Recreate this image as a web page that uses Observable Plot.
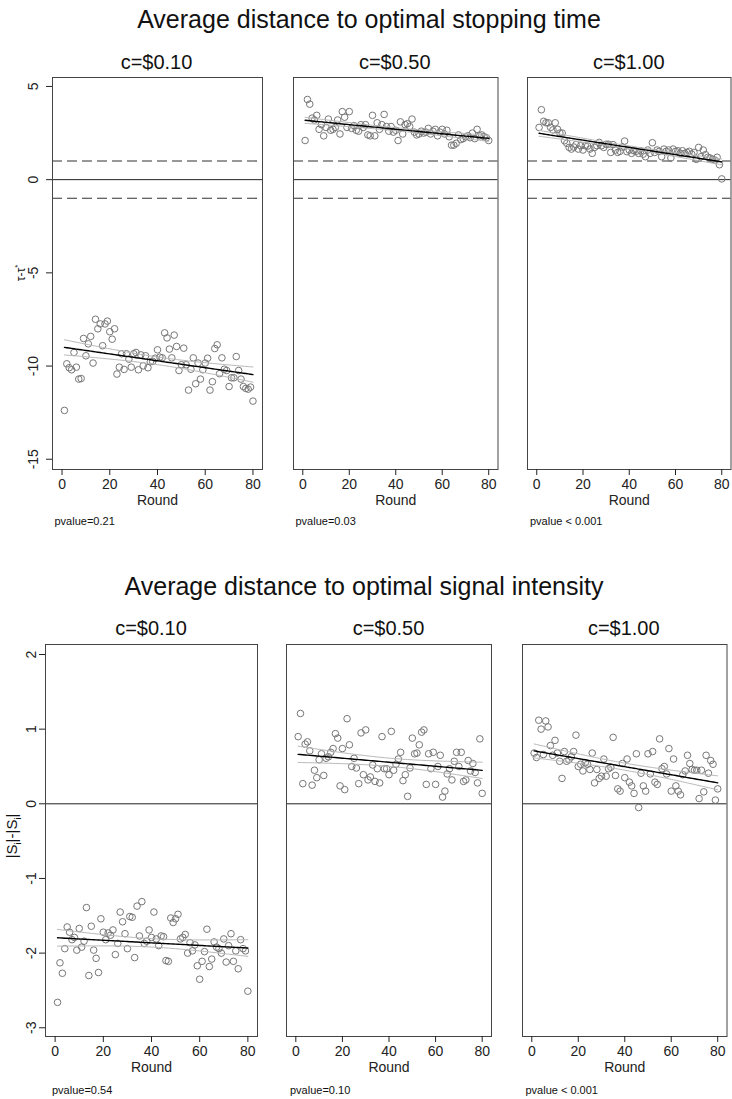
<!DOCTYPE html>
<html>
<head>
<meta charset="utf-8">
<script src="https://cdn.jsdelivr.net/npm/d3@7"></script>
<script src="https://cdn.jsdelivr.net/npm/@observablehq/plot@0.6"></script>
<style>
  html, body { margin: 0; padding: 0; background: #fff; }
  #root { position: relative; width: 732px; height: 1099px; background: #fff; font-family: "Liberation Sans", Arial, sans-serif; color: #111; overflow: hidden; }
  .lbl { position: absolute; transform: translate(-50%, -50%); white-space: nowrap; line-height: 1; }
  .pv { position: absolute; white-space: nowrap; line-height: 1; font-size: 11px; transform: translateY(-50%); }
  .rot { position: absolute; transform: translate(-50%, -50%) rotate(-90deg); white-space: nowrap; line-height: 1; }
</style>
</head>
<body>
<div id="root"></div>
<script>
// ---------- data ----------
const mainTitles = ["Average distance to optimal stopping time", "Average distance to optimal signal intensity"];
const costLabels = ["c=$0.10", "c=$0.50", "c=$1.00"];
const pvaluesStop = ["pvalue=0.21", "pvalue=0.03", "pvalue < 0.001"];
const pvaluesSignal = ["pvalue=0.54", "pvalue=0.10", "pvalue < 0.001"];
const xTicks = [0, 20, 40, 60, 80];
const yTicksStop = [-15, -10, -5, 0, 5];
const yTicksSignal = [-3, -2, -1, 0, 1, 2];
const stopBands = [-1, 1];
const rounds = d3.range(1, 81);

const stop010 = [-12.38,-9.88,-10.09,-10.2,-9.27,-10.06,-10.7,-10.67,-8.52,-9.45,-8.81,-8.41,-9.84,-7.49,-8.0,-7.74,-8.91,-7.74,-7.59,-8.16,
  -8.56,-8.0,-10.43,-10.06,-9.34,-10.18,-9.34,-9.63,-10.06,-9.34,-9.27,-10.2,-9.4,-9.99,-9.45,-10.09,-9.77,-9.75,-9.58,-9.13,
  -9.52,-9.56,-8.22,-8.49,-9.09,-9.56,-8.34,-8.95,-10.24,-9.93,-9.04,-9.93,-11.29,-10.17,-9.56,-10.95,-9.84,-10.7,-10.2,-9.84,
  -9.58,-11.29,-10.84,-9.06,-8.86,-10.41,-9.56,-10.17,-10.24,-11.1,-10.63,-10.63,-9.49,-10.24,-10.7,-11.1,-11.2,-11.24,-11.13,-11.88];
const stop050 = [2.1,4.3,4.05,3.3,3.2,3.45,2.7,2.95,2.35,2.8,3.25,2.65,2.7,2.8,3.2,2.45,3.65,3.35,2.8,3.65,
  2.75,2.9,2.65,2.6,2.95,2.8,2.95,2.4,2.35,3.45,2.35,3.05,2.7,2.95,3.5,2.85,2.6,2.85,2.55,2.65,
  2.1,3.1,2.45,2.95,3.0,2.85,3.25,2.55,2.4,2.45,2.6,2.5,2.55,2.75,2.45,2.6,2.7,2.35,2.55,2.7,
  2.45,2.65,2.3,1.85,1.85,1.95,2.4,2.15,2.2,2.3,2.35,2.25,2.5,2.2,2.7,2.35,2.4,2.3,2.25,2.1];
const stop100 = [2.8,3.75,3.13,3.05,3.05,2.8,2.67,3.05,2.7,2.5,2.5,2.09,1.95,1.73,1.64,1.75,1.88,1.64,1.82,1.59,
  1.82,1.8,1.64,1.41,1.73,1.82,2.0,1.82,1.73,1.9,1.9,1.46,1.88,1.59,1.46,1.52,1.75,2.07,1.5,1.59,
  1.41,1.55,1.52,1.41,1.55,1.37,1.23,1.59,1.41,1.98,1.46,1.59,1.52,1.23,1.64,1.52,1.59,1.16,1.64,1.52,
  1.55,1.41,1.55,1.41,1.46,1.52,1.37,1.46,1.09,1.73,1.23,1.59,1.34,1.2,1.16,1.09,1.05,1.2,0.8,0.04];
const signal010 = [-2.66,-2.13,-2.27,-1.94,-1.65,-1.72,-1.82,-1.79,-1.96,-1.67,-1.92,-1.84,-1.39,-2.3,-1.64,-1.96,-2.07,-2.26,-1.54,-1.72,
  -1.82,-1.73,-1.76,-1.69,-2.02,-1.87,-1.45,-1.58,-1.74,-1.94,-1.51,-1.52,-2.06,-1.37,-1.77,-1.31,-1.87,-1.84,-1.69,-1.79,
  -1.45,-1.81,-1.9,-1.77,-1.78,-2.1,-2.11,-1.53,-1.59,-1.54,-1.48,-1.81,-1.79,-1.75,-2.0,-1.86,-1.97,-1.89,-2.17,-2.35,
  -2.11,-1.98,-1.68,-2.18,-2.08,-1.85,-1.92,-1.94,-2.0,-1.81,-2.12,-1.9,-1.74,-2.11,-1.97,-2.21,-1.82,-1.94,-1.97,-2.51];
const signal050 = [0.9,1.21,0.27,0.8,0.83,0.71,0.25,0.45,0.35,0.59,0.67,0.38,0.61,0.63,0.69,0.74,0.94,0.88,0.24,0.74,
  0.19,1.14,0.79,0.5,0.61,0.48,0.27,0.95,0.39,0.99,0.32,0.36,0.52,0.3,0.47,0.28,0.9,0.47,0.47,0.39,
  0.97,0.45,0.53,0.6,0.69,0.31,0.39,0.1,0.48,0.88,0.67,0.68,0.79,0.96,0.99,0.26,0.67,0.47,0.69,0.26,
  0.5,0.65,0.09,0.17,0.4,0.47,0.32,0.57,0.69,0.5,0.69,0.3,0.32,0.58,0.44,0.54,0.42,0.28,0.87,0.14];
const signal100 = [0.68,0.62,1.12,1.0,0.66,1.11,1.03,0.78,0.65,0.85,0.68,0.57,0.34,0.7,0.57,0.59,0.63,0.7,0.92,0.5,
  0.53,0.44,0.55,0.53,0.46,0.68,0.28,0.46,0.34,0.37,0.6,0.37,0.47,0.49,0.89,0.38,0.2,0.17,0.54,0.35,
  0.6,0.29,0.24,0.14,0.67,-0.05,0.41,0.24,0.17,0.67,0.4,0.7,0.29,0.26,0.87,0.47,0.5,0.4,0.74,0.17,
  0.6,0.24,0.17,0.12,0.39,0.44,0.65,0.54,0.46,0.45,0.45,0.07,0.45,0.16,0.65,0.41,0.58,0.53,0.05,0.2];

// ---------- layout ----------
const root = document.getElementById("root");
function addDiv(cls, html, style) {
  const d = document.createElement("div");
  d.className = cls; d.innerHTML = html;
  Object.assign(d.style, style);
  root.appendChild(d);
  return d;
}

function regression(ys) {
  const n = ys.length, xs = rounds;
  const xm = d3.mean(xs), ym = d3.mean(ys);
  let sxx = 0, sxy = 0;
  xs.forEach((x, i) => { sxx += (x - xm) ** 2; sxy += (x - xm) * (ys[i] - ym); });
  const b = sxy / sxx, a = ym - b * xm;
  let sse = 0;
  xs.forEach((x, i) => { sse += (ys[i] - a - b * x) ** 2; });
  const s = Math.sqrt(sse / (n - 2));
  const t = 1.9908;
  return xs.map(x => {
    const f = a + b * x;
    const h = t * s * Math.sqrt(1 / n + (x - xm) ** 2 / sxx);
    return {x, f, lo: f - h, hi: f + h};
  });
}

const fmt = d => String(d);

function panel(cfg) {
  const mL = cfg.yAxis ? 45 : 6, mR = 6, mT = 6, mB = 42;
  const pts = rounds.map((r, i) => ({x: r, y: cfg.values[i]}));
  const reg = regression(cfg.values);
  const marks = [
    Plot.ruleY([0], {stroke: "#222", strokeWidth: 1}),
  ];
  if (cfg.bands) marks.push(Plot.ruleY(cfg.bands, {stroke: "#333", strokeWidth: 1.1, strokeDasharray: "10,5"}));
  marks.push(
    Plot.dot(pts, {x: "x", y: "y", r: 3.3, stroke: "#777", strokeWidth: 1, fill: "none"}),
    Plot.line(reg, {x: "x", y: "lo", stroke: "#b8b8b8", strokeWidth: 1}),
    Plot.line(reg, {x: "x", y: "hi", stroke: "#b8b8b8", strokeWidth: 1}),
    Plot.line(reg, {x: "x", y: "f", stroke: "#000", strokeWidth: 1.4}),
    Plot.frame({stroke: "#444", strokeWidth: 1}),
    Plot.axisX({ticks: xTicks, tickSize: 6, tickPadding: 4, label: null, fontSize: 14, tickFormat: fmt}),
    Plot.text(["Round"], {text: d => d, frameAnchor: "bottom", dy: 31, fontSize: 14, lineAnchor: "middle"})
  );
  if (cfg.yAxis) {
    marks.push(
      Plot.axisY({ticks: cfg.yTicks, tickSize: 6, tickFormat: () => "", label: null}),
      Plot.text(cfg.yTicks, {y: d => d, text: d => fmt(d), frameAnchor: "left", dx: -cfg.labelOff, rotate: -90,
        fontSize: 14, textAnchor: "middle", lineAnchor: "middle"})
    );
  }
  const svg = Plot.plot({
    width: cfg.boxW + mL + mR,
    height: cfg.boxH + mT + mB,
    marginLeft: mL, marginRight: mR, marginTop: mT, marginBottom: mB,
    x: {domain: [-4, 84], axis: null},
    y: {domain: cfg.yDomain, axis: null},
    style: {fontFamily: "'Liberation Sans', Arial, sans-serif", fontSize: "14px", color: "#222", background: "transparent", overflow: "visible"},
    marks
  });
  svg.style.position = "absolute";
  svg.style.left = (cfg.boxL - mL) + "px";
  svg.style.top = (cfg.boxT - mT) + "px";
  root.appendChild(svg);
  addDiv("lbl", cfg.title, {left: (cfg.boxL + cfg.boxW / 2) + "px", top: cfg.titleY + "px", fontSize: "20px"});
  addDiv("pv", cfg.pvalue, {left: cfg.pvX + "px", top: cfg.pvY + "px"});
}

// top block
addDiv("lbl", mainTitles[0], {left: "369px", top: "19px", fontSize: "25px"});
addDiv("rot", "τ-τ<sup style='font-size:8px'>*</sup>", {left: "20px", top: "273px", fontSize: "12px"});
const topBoxes = [[51.5, 210], [292.5, 204.5], [527, 203.5]];
const stopValues = [stop010, stop050, stop100];
topBoxes.forEach(([l, w], i) => panel({
  values: stopValues[i], boxL: l, boxW: w, boxT: 77, boxH: 392,
  yDomain: [-15.55, 5.48], yTicks: yTicksStop, yAxis: i === 0, labelOff: 19,
  bands: stopBands, title: costLabels[i], titleY: 62, pvalue: pvaluesStop[i], pvX: l + 3, pvY: 521
}));

// bottom block
addDiv("lbl", mainTitles[1], {left: "364px", top: "586px", fontSize: "25px"});
addDiv("rot", "|S<sub style='font-size:9px'>i</sub>|-|S<sub style='font-size:9px'>i</sub>|", {left: "13px", top: "836px", fontSize: "15px"});
const botBoxes = [[45, 212], [286, 205], [521.5, 204.5]];
const signalValues = [signal010, signal050, signal100];
botBoxes.forEach(([l, w], i) => panel({
  values: signalValues[i], boxL: l, boxW: w, boxT: 644, boxH: 392,
  yDomain: [-3.117, 2.134], yTicks: yTicksSignal, yAxis: i === 0, labelOff: 14,
  bands: null, title: costLabels[i], titleY: 628, pvalue: pvaluesSignal[i], pvX: l + (i === 0 ? 7 : 4), pvY: 1090
}));
</script>
</body>
</html>
